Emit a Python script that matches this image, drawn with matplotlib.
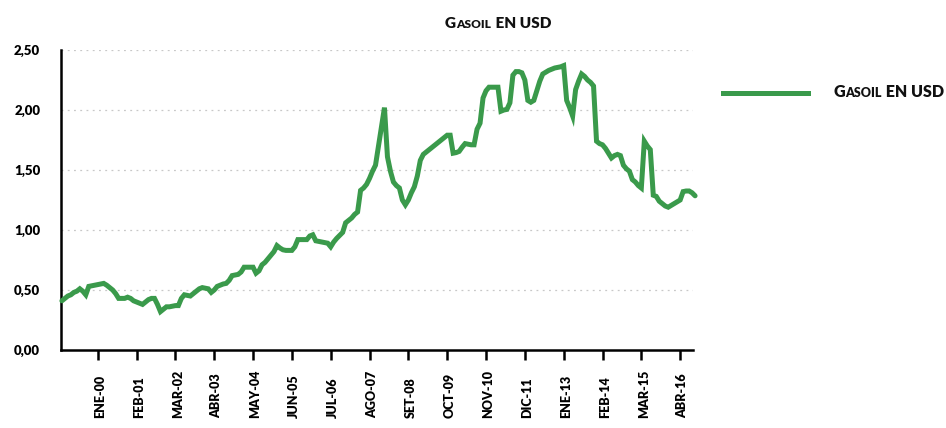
import matplotlib
matplotlib.use('Agg')
import matplotlib.pyplot as plt
from matplotlib.lines import Line2D
from matplotlib.offsetbox import TextArea, HPacker, AnnotationBbox
import matplotlib.transforms as mtransforms

plt.rcParams['font.family'] = ['Lato', 'DejaVu Sans']

# Monthly gasoil price (USD), ENE-99 .. SET-16.
gasoil_usd = [
    0.41, 0.43, 0.45, 0.46, 0.48, 0.49, 0.51, 0.49, 0.46, 0.53,
    0.535, 0.54, 0.545, 0.55, 0.555, 0.54, 0.52, 0.50, 0.47, 0.43,
    0.43, 0.43, 0.44, 0.43, 0.41, 0.40, 0.39, 0.38, 0.40, 0.42,
    0.43, 0.43, 0.38, 0.32, 0.34, 0.36, 0.36, 0.365, 0.37, 0.37,
    0.43, 0.46, 0.455, 0.45, 0.47, 0.49, 0.51, 0.52, 0.515, 0.51,
    0.48, 0.50, 0.53, 0.54, 0.55, 0.555, 0.58, 0.62, 0.625, 0.63,
    0.65, 0.69, 0.69, 0.69, 0.69, 0.64, 0.66, 0.71, 0.73, 0.76,
    0.79, 0.82, 0.87, 0.85, 0.835, 0.83, 0.83, 0.83, 0.86, 0.92,
    0.92, 0.92, 0.92, 0.95, 0.96, 0.91, 0.905, 0.90, 0.895, 0.89,
    0.86, 0.90, 0.93, 0.955, 0.98, 1.06, 1.08, 1.10, 1.13, 1.15,
    1.33, 1.35, 1.38, 1.43, 1.49, 1.54, 1.70, 1.86, 2.02, 1.61,
    1.49, 1.40, 1.37, 1.35, 1.25, 1.21, 1.25, 1.31, 1.36, 1.45,
    1.58, 1.63, 1.65, 1.67, 1.69, 1.71, 1.73, 1.75, 1.77, 1.79,
    1.79, 1.64, 1.645, 1.655, 1.69, 1.72, 1.715, 1.71, 1.71, 1.84,
    1.89, 2.10, 2.16, 2.19, 2.19, 2.19, 2.19, 1.99, 2.00, 2.005,
    2.06, 2.29, 2.32, 2.32, 2.31, 2.25, 2.08, 2.065, 2.08, 2.16,
    2.24, 2.30, 2.315, 2.33, 2.34, 2.35, 2.355, 2.36, 2.37, 2.08,
    2.02, 1.95, 2.17, 2.24, 2.30, 2.28, 2.25, 2.23, 2.20, 1.74,
    1.72, 1.71, 1.68, 1.64, 1.60, 1.62, 1.63, 1.62, 1.54, 1.51,
    1.49, 1.42, 1.40, 1.37, 1.35, 1.74, 1.70, 1.67, 1.29, 1.28,
    1.24, 1.22, 1.20, 1.19, 1.205, 1.22, 1.235, 1.25, 1.32, 1.325,
    1.325, 1.31, 1.285,
]

# Month index of each x label (every 13 months from ENE-00).
xtick_pos = [12, 25, 38, 51, 64, 77, 90, 103, 116, 129, 142, 155, 168, 181, 194, 207]
xtick_labels = ['ENE-00', 'FEB-01', 'MAR-02', 'ABR-03', 'MAY-04', 'JUN-05', 'JUL-06',
                'AGO-07', 'SET-08', 'OCT-09', 'NOV-10', 'DIC-11', 'ENE-13', 'FEB-14',
                'MAR-15', 'ABR-16']
ytick_pos = [0.0, 0.5, 1.0, 1.5, 2.0, 2.5]
ytick_labels = ['0,00', '0,50', '1,00', '1,50', '2,00', '2,50']

green = '#3a9a4b'
W, H = 946, 428

fig = plt.figure(figsize=(W / 100, H / 100), dpi=100)
ax = fig.add_axes([61 / W, 78 / H, (693 - 61) / W, 300 / H])

ax.plot(range(len(gasoil_usd)), gasoil_usd, color=green, lw=3.6,
        solid_joinstyle='miter', solid_capstyle='round', clip_on=False, zorder=3)

ax.set_xlim(-0.3, 211.3)
ax.set_ylim(0, 2.5)

# Dotted grid.
for yv in ytick_pos[1:]:
    ax.axhline(yv, color='#c8c8c8', lw=0.9, ls=(0, (1.5, 3.5)), zorder=1)

for side in ['top', 'right']:
    ax.spines[side].set_visible(False)
for side in ['left', 'bottom']:
    ax.spines[side].set_linewidth(1.8)
    ax.spines[side].set_color('black')

ax.set_yticks(ytick_pos)
ax.set_yticklabels(ytick_labels, fontsize=9.5, fontweight='heavy')
ax.tick_params(axis='y', length=0, pad=15)

ax.set_xticks(xtick_pos)
ax.set_xticklabels([])
ax.tick_params(axis='x', length=7, width=1.8, direction='out')

# Rotated labels aligned at their start (bottom).
trans = mtransforms.blended_transform_factory(ax.transData, ax.transAxes)
for pos, lab in zip(xtick_pos, xtick_labels):
    ax.text(pos + 0.8, -0.228, lab, transform=trans, rotation=90, ha='center',
            va='bottom', fontsize=9, fontweight='heavy')


def small_caps(text, big=11, small=8.6):
    # Fake small caps: capitals at full size, lower case upper-cased smaller.
    parts = []
    buf = ''
    cur = None
    for ch in text:
        kind = 'small' if ch.islower() else 'big'
        if cur is not None and kind != cur:
            parts.append((buf, cur))
            buf = ''
        buf += ch
        cur = kind
    parts.append((buf, cur))
    boxes = []
    for s, kind in parts:
        size = small if kind == 'small' else big
        boxes.append(TextArea(s.upper(), textprops=dict(fontsize=size, fontweight='heavy',
                                                        color='#111111')))
    return HPacker(children=boxes, align='baseline', pad=0, sep=0.3)


title_box = small_caps('Gasoil EN USD')
fig.add_artist(AnnotationBbox(title_box, (498 / W, 1 - 23 / H), xycoords='figure fraction',
                              box_alignment=(0.5, 0.5), frameon=False))

# Legend.
fig.add_artist(Line2D([723 / W, 808 / W], [1 - 93 / H, 1 - 93 / H], color=green, lw=3.6,
                      transform=fig.transFigure))
leg_box = small_caps('Gasoil EN USD', big=11.5, small=9)
fig.add_artist(AnnotationBbox(leg_box, (833 / W, 1 - 92 / H), xycoords='figure fraction',
                              box_alignment=(0, 0.5), frameon=False))

fig.savefig('out.png', dpi=100)
